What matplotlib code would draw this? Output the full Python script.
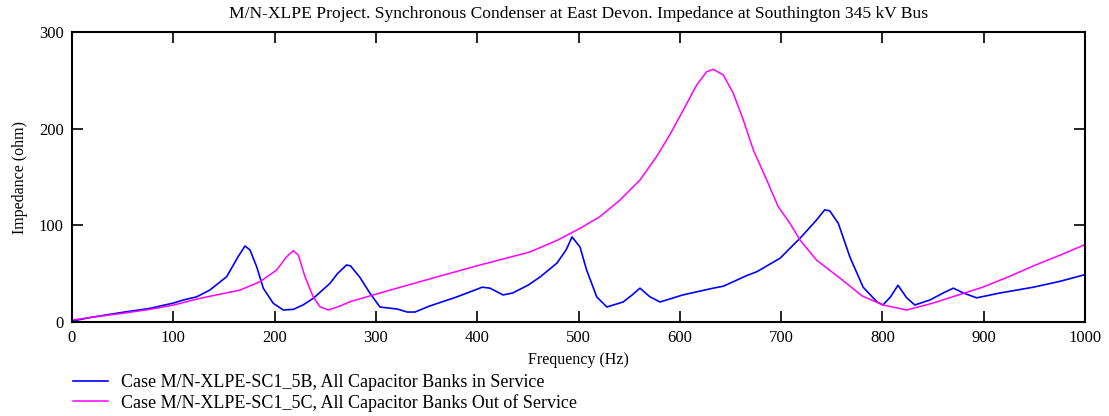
import numpy as np
import matplotlib
matplotlib.use("Agg")
import matplotlib.pyplot as plt

# ============================================================
# DATA
# ============================================================

# Case 5B - all capacitor banks in service
freq_5b = [0, 20, 50, 77, 100, 110, 123, 136, 152.7, 164, 170.8, 175.7, 182.3,
           188.9, 198.7, 208.6, 218.5, 228, 238.2, 254.7, 262, 271, 275, 284, 294,
           304, 321, 331, 338.6, 353, 380, 395, 405, 412.6, 425.5, 435, 450, 462,
           478.8, 488, 493.6, 501.5, 508, 518, 528, 544, 553, 560.7, 570.6, 580.5,
           603, 633, 643, 666, 676, 699, 719, 735, 743, 748, 756.5, 768, 781,
           794.7, 800.6, 808, 815.4, 824, 832, 847, 860, 870, 880, 893, 916, 949,
           975, 1000]
z_5b = [1, 5, 10, 14.1, 19.6, 22.8, 26, 33, 46.9, 67.6, 78.6, 74.5, 57.2,
        34.8, 19.3, 12.4, 13.1, 17.6, 24.5, 40, 50, 59, 58, 46.5, 30,
        15.5, 13.4, 10.3, 10.3, 16.5, 26, 32, 36, 35, 28, 30, 38, 46.5,
        61, 75, 88, 77.6, 53.8, 26, 15.5, 20.7, 28, 35, 26, 20.7,
        28, 35, 37, 48, 52, 66, 87, 105.5, 116, 115, 102, 67, 36,
        20.7, 17.6, 26, 38, 25, 17.6, 22.8, 30, 35, 30, 25, 30, 36,
        42, 49]

# Case 5C - all capacitor banks out of service
freq_5c = [0, 20, 50, 77, 100, 126.4, 165.8, 185.6, 202, 212, 218.5, 223.4, 230,
           238, 244.8, 253, 264.6, 274.4, 304, 353, 402.8, 452, 480, 501.5, 521,
           541, 560.7, 577, 590, 603.5, 616.7, 626.5, 633, 643, 652.8, 662.7,
           672.6, 685.8, 697.2, 708.8, 718.7, 735, 758, 780, 800.6, 824, 850,
           875, 899, 925, 949, 975, 1000]
z_5c = [2, 5, 9, 13.1, 17.5, 24.5, 33, 41.7, 53.8, 67.6, 73.8, 69.3, 46.9,
        26.2, 15.8, 12.4, 16.5, 21, 30, 44.5, 59, 72.4, 85, 96.9, 108.9,
        126.2, 146.9, 171, 193.4, 219.3, 245.2, 258.9, 261.4, 255.5, 236.6, 209,
        178, 146.9, 119.3, 102, 84.8, 64, 45.5, 27, 17.6, 12.4, 19.6,
        28, 36, 47, 58, 69, 80]

label_5b = "Case M/N-XLPE-SC1_5B, All Capacitor Banks in Service"
label_5c = "Case M/N-XLPE-SC1_5C, All Capacitor Banks Out of Service"
title = "M/N-XLPE Project. Synchronous Condenser at East Devon. Impedance at Southington 345 kV Bus"

x_ticks = list(range(0, 1001, 100))
y_ticks = [0, 100, 200, 300]

# ============================================================
# PLOT
# ============================================================

plt.rcParams["font.family"] = ["Liberation Serif", "DejaVu Serif"]

fig = plt.figure(figsize=(11.09, 4.16), dpi=100)
ax = fig.add_axes([72 / 1109, 1 - 322 / 416, (1085 - 72) / 1109, (322 - 32) / 416])

ax.plot(freq_5b, z_5b, color="#0000ff", lw=1.2, label=label_5b)
ax.plot(freq_5c, z_5c, color="#ff00ff", lw=1.1, label=label_5c)

ax.set_xlim(0, 1000)
ax.set_ylim(0, 300)
ax.set_xticks(x_ticks)
ax.set_yticks(y_ticks)
ax.tick_params(direction="in", length=8, width=1.2, top=True, right=True,
               labelsize=12, pad=6, colors="black")
for s in ax.spines.values():
    s.set_linewidth(1.5)

ax.set_xlabel("Frequency (Hz)", fontsize=11.5, labelpad=4)
ax.set_ylabel("Impedance (ohm)", fontsize=11.5, labelpad=8)

# title placed in figure coords, centred over the axes
fig.text((72 + 1085) / 2 / 1109, 1 - 14 / 416, title, fontsize=12.6,
         ha="center", va="center")

fig.legend(loc="upper left", bbox_to_anchor=(64 / 1109, 1 - 365 / 416),
           frameon=False, fontsize=13, handlelength=1.95, handletextpad=0.72,
           borderpad=0, labelspacing=0.15)

fig.savefig("out.png", dpi=100)
